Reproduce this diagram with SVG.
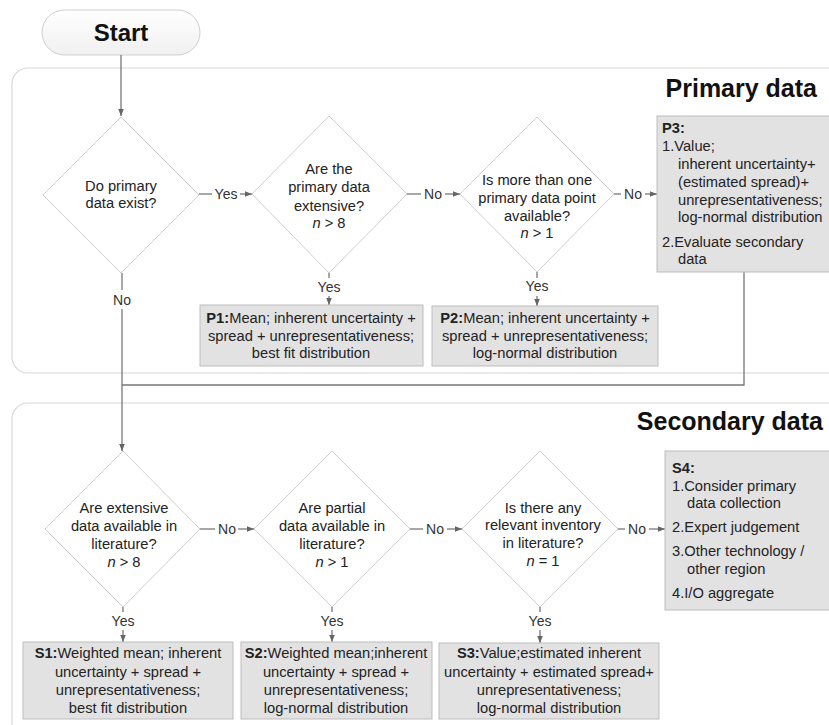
<svg xmlns="http://www.w3.org/2000/svg" width="829" height="725" viewBox="0 0 829 725">
<defs>
<marker id="ah" viewBox="0 0 10 10" refX="10" refY="5" markerWidth="7" markerHeight="7" markerUnits="userSpaceOnUse" orient="auto">
<path d="M0,1 L10,5 L0,9 z" fill="#666"/>
</marker>
<linearGradient id="pill" x1="0" y1="0" x2="0" y2="1">
<stop offset="0" stop-color="#ffffff"/>
<stop offset="1" stop-color="#f0f0f0"/>
</linearGradient>
</defs>
<style>
text{font-family:"Liberation Sans",Arial,sans-serif;fill:#222;}
.t{font-size:14.7px;}
.c{text-anchor:middle;}
.b{font-weight:bold;}
.title{font-size:25px;font-weight:bold;text-anchor:end;fill:#111;}
.panel{fill:#ffffff;stroke:#d8d8d8;stroke-width:1.2;}
.dia{fill:#ffffff;stroke:#cfcfcf;stroke-width:1;}
.box{fill:#e2e2e2;stroke:#bdbdbd;stroke-width:1;}
.ln{fill:none;stroke:#777;stroke-width:1.3;}
.lab{font-size:14px;text-anchor:middle;fill:#333;}
</style>
<rect width="829" height="725" fill="#ffffff"/>

<g id="panel-primary">
<rect class="panel" x="12" y="68" width="840" height="305" rx="16"/>
<text class="title" x="817" y="97">Primary data</text>
</g>
<g id="panel-secondary">
<rect class="panel" x="12" y="403" width="840" height="340" rx="16"/>
<text class="title" x="823" y="430">Secondary data</text>
</g>

<g id="start">
<rect x="42" y="10" width="158" height="45" rx="22.5" fill="url(#pill)" stroke="#cfcfcf"/>
<text class="c b" x="121" y="41" style="font-size:24px;fill:#111">Start</text>
</g>

<g id="connectors">
<line class="ln" x1="121" y1="55" x2="121" y2="116" marker-end="url(#ah)"/>
<line class="ln" x1="199" y1="194" x2="212" y2="194"/>
<line class="ln" x1="240" y1="194" x2="252" y2="194" marker-end="url(#ah)"/>
<line class="ln" x1="407" y1="194" x2="421" y2="194"/>
<line class="ln" x1="445" y1="194" x2="460" y2="194" marker-end="url(#ah)"/>
<line class="ln" x1="614" y1="194" x2="621" y2="194"/>
<line class="ln" x1="645" y1="194" x2="657" y2="194" marker-end="url(#ah)"/>
<line class="ln" x1="329" y1="273" x2="329" y2="278"/>
<line class="ln" x1="329" y1="296" x2="329" y2="305" marker-end="url(#ah)"/>
<line class="ln" x1="537" y1="272" x2="537" y2="278"/>
<line class="ln" x1="537" y1="296" x2="537" y2="306" marker-end="url(#ah)"/>
<line class="ln" x1="122" y1="273" x2="122" y2="290"/>
<line class="ln" x1="122" y1="309" x2="122" y2="451" marker-end="url(#ah)"/>
<polyline class="ln" points="744,272 744,385 122,385"/>
<line class="ln" x1="200" y1="529" x2="215" y2="529"/>
<line class="ln" x1="238" y1="529" x2="254" y2="529" marker-end="url(#ah)"/>
<line class="ln" x1="410" y1="529" x2="423" y2="529"/>
<line class="ln" x1="447" y1="529" x2="462" y2="529" marker-end="url(#ah)"/>
<line class="ln" x1="618" y1="529" x2="625" y2="529"/>
<line class="ln" x1="649" y1="529" x2="665" y2="529" marker-end="url(#ah)"/>
<line class="ln" x1="123" y1="607" x2="123" y2="612"/>
<line class="ln" x1="123" y1="630" x2="123" y2="642" marker-end="url(#ah)"/>
<line class="ln" x1="332" y1="607" x2="332" y2="612"/>
<line class="ln" x1="332" y1="630" x2="332" y2="642" marker-end="url(#ah)"/>
<line class="ln" x1="540" y1="607" x2="540" y2="612"/>
<line class="ln" x1="540" y1="630" x2="540" y2="643" marker-end="url(#ah)"/>
<text class="lab" x="226" y="199">Yes</text>
<text class="lab" x="433" y="199">No</text>
<text class="lab" x="633" y="199">No</text>
<text class="lab" x="329" y="292">Yes</text>
<text class="lab" x="537" y="291">Yes</text>
<text class="lab" x="122" y="305">No</text>
<text class="lab" x="227" y="534">No</text>
<text class="lab" x="435" y="534">No</text>
<text class="lab" x="637" y="534">No</text>
<text class="lab" x="123" y="626">Yes</text>
<text class="lab" x="332" y="626">Yes</text>
<text class="lab" x="540" y="626">Yes</text>
</g>

<g id="d1">
<polygon class="dia" points="121,117 199,195 121,273 43,195"/>
<text class="t c" x="121" y="191">Do primary</text>
<text class="t c" x="121" y="208">data exist?</text>
</g>
<g id="d2">
<polygon class="dia" points="329,116 407,194 329,273 252,194"/>
<text class="t c" x="329" y="174">Are the</text>
<text class="t c" x="329" y="192">primary data</text>
<text class="t c" x="329" y="211">extensive?</text>
<text class="t c" x="329" y="228"><tspan font-style="italic">n</tspan> &gt; 8</text>
</g>
<g id="d3">
<polygon class="dia" points="537,117 614,194 537,272 460,194"/>
<text class="t c" x="537" y="185">Is more than one</text>
<text class="t c" x="537" y="203">primary data point</text>
<text class="t c" x="537" y="221">available?</text>
<text class="t c" x="537" y="238"><tspan font-style="italic">n</tspan> &gt; 1</text>
</g>
<g id="p1">
<rect class="box" x="200" y="305" width="223" height="61"/>
<text class="t c" x="311" y="323"><tspan class="b">P1:</tspan>Mean; inherent uncertainty +</text>
<text class="t c" x="311" y="341">spread + unrepresentativeness;</text>
<text class="t c" x="311" y="358">best fit distribution</text>
</g>
<g id="p2">
<rect class="box" x="432" y="306" width="226" height="60"/>
<text class="t c" x="545" y="323"><tspan class="b">P2:</tspan>Mean; inherent uncertainty +</text>
<text class="t c" x="545" y="341">spread + unrepresentativeness;</text>
<text class="t c" x="545" y="358">log-normal distribution</text>
</g>
<g id="p3">
<rect class="box" x="657" y="116" width="190" height="156"/>
<text class="t b" x="662" y="133">P3:</text>
<text class="t" x="662" y="151">1.Value;</text>
<text class="t" x="678" y="169">inherent uncertainty+</text>
<text class="t" x="678" y="187">(estimated spread)+</text>
<text class="t" x="678" y="205">unrepresentativeness;</text>
<text class="t" x="678" y="222">log-normal distribution</text>
<text class="t" x="662" y="247">2.Evaluate secondary</text>
<text class="t" x="678" y="264">data</text>
</g>

<g id="s1d">
<polygon class="dia" points="123,451 200,529 123,607 45,529"/>
<text class="t c" x="124" y="513">Are extensive</text>
<text class="t c" x="124" y="531">data available in</text>
<text class="t c" x="124" y="549">literature?</text>
<text class="t c" x="124" y="567"><tspan font-style="italic">n</tspan> &gt; 8</text>
</g>
<g id="s2d">
<polygon class="dia" points="332,451 410,529 332,607 254,529"/>
<text class="t c" x="332" y="513">Are partial</text>
<text class="t c" x="332" y="531">data available in</text>
<text class="t c" x="332" y="549">literature?</text>
<text class="t c" x="332" y="567"><tspan font-style="italic">n</tspan> &gt; 1</text>
</g>
<g id="s3d">
<polygon class="dia" points="540,451 618,529 540,607 462,529"/>
<text class="t c" x="543" y="513">Is there any</text>
<text class="t c" x="543" y="530">relevant inventory</text>
<text class="t c" x="543" y="548">in literature?</text>
<text class="t c" x="543" y="566"><tspan font-style="italic">n</tspan> = 1</text>
</g>
<g id="s1">
<rect class="box" x="23" y="642" width="210" height="77"/>
<text class="t c" x="128" y="658"><tspan class="b">S1:</tspan>Weighted mean; inherent</text>
<text class="t c" x="128" y="677">uncertainty + spread +</text>
<text class="t c" x="128" y="695">unrepresentativeness;</text>
<text class="t c" x="128" y="713">best fit distribution</text>
</g>
<g id="s2">
<rect class="box" x="241" y="642" width="191" height="77"/>
<text class="t c" x="336" y="658"><tspan class="b">S2:</tspan>Weighted mean;inherent</text>
<text class="t c" x="336" y="677">uncertainty + spread +</text>
<text class="t c" x="336" y="695">unrepresentativeness;</text>
<text class="t c" x="336" y="713">log-normal distribution</text>
</g>
<g id="s3">
<rect class="box" x="439" y="643" width="220" height="76"/>
<text class="t c" x="549" y="658"><tspan class="b">S3:</tspan>Value;estimated inherent</text>
<text class="t c" x="549" y="677">uncertainty + estimated spread+</text>
<text class="t c" x="549" y="695">unrepresentativeness;</text>
<text class="t c" x="549" y="713">log-normal distribution</text>
</g>
<g id="s4">
<rect class="box" x="665" y="451" width="190" height="159"/>
<text class="t b" x="672" y="473">S4:</text>
<text class="t" x="672" y="491">1.Consider primary</text>
<text class="t" x="687" y="508">data collection</text>
<text class="t" x="672" y="532">2.Expert judgement</text>
<text class="t" x="672" y="556">3.Other technology /</text>
<text class="t" x="687" y="574">other region</text>
<text class="t" x="672" y="598">4.I/O aggregate</text>
</g>
</svg>
